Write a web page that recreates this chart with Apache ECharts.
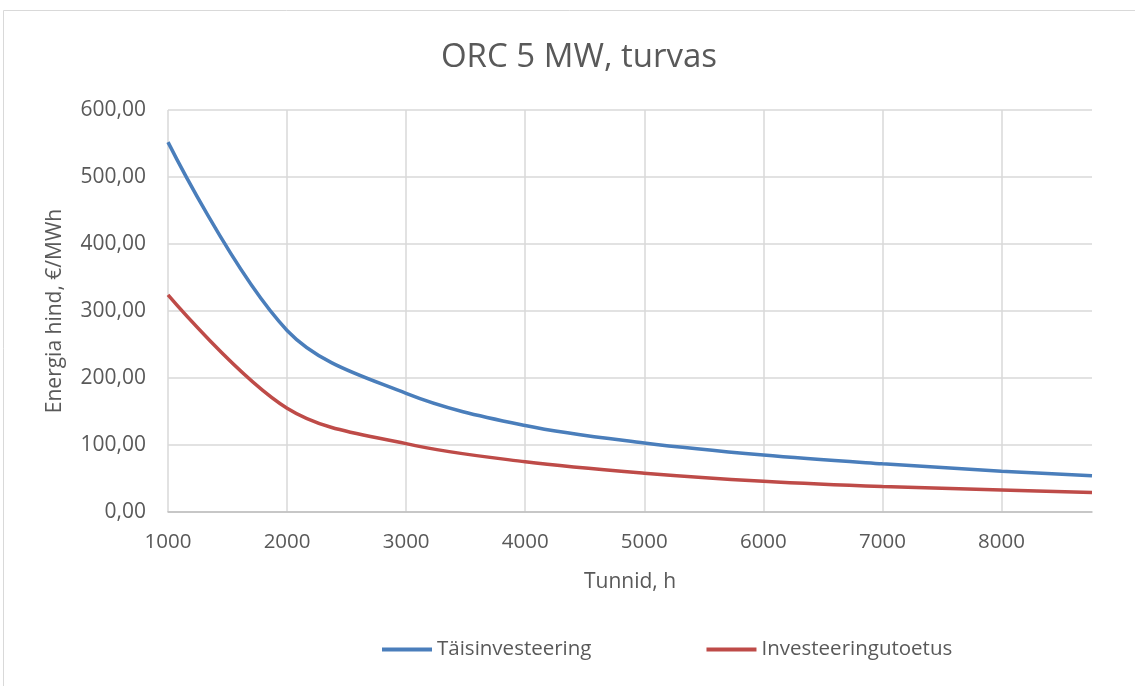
<!DOCTYPE html>
<html>
<head>
    <meta charset="utf-8">
    <title>ORC 5 MW, turvas</title>
    <script src="https://cdn.jsdelivr.net/npm/echarts@6/dist/echarts.min.js"></script>
    <style>
        body { margin: 0; background: #fff; }
    </style>
</head>
<body>
    <div id="main" style="width: 1135px;height:686px;"></div>
    <script type="text/javascript">
    // tunnid (h) ja energia hind (€/MWh)
    var hours = [1000, 2000, 3000, 4000, 5000, 6000, 7000, 8000, 8760];
    var taisinvesteering = [552, 271, 177, 129, 103, 85, 72, 61, 54];
    var investeeringutoetus = [324, 155, 102, 75, 58, 46, 38, 33, 29];
    var seriesNames = ['Täisinvesteering', 'Investeeringutoetus'];

    function pairs(xs, ys) {
        var out = [];
        for (var i = 0; i < xs.length; i++) {
            out.push([xs[i], ys[i]]);
        }
        return out;
    }

    var textColor = '#595959';
    var font = 'Open Sans';

    var myChart = echarts.init(document.getElementById('main'));
    var option = {
        backgroundColor: '#fff',
        textStyle: { fontFamily: font },
        graphic: [{
            type: 'rect',
            shape: { x: 3.5, y: 10.5, width: 1200, height: 1000 },
            style: { fill: 'none', stroke: '#d9d9d9', lineWidth: 1 },
            silent: true
        }],
        title: {
            text: 'ORC 5 MW, turvas',
            left: 574,
            top: 36,
            textAlign: 'center',
            textStyle: { fontFamily: font, fontSize: 33, fontWeight: 'normal', color: textColor }
        },
        legend: {
            left: 377,
            top: 634,
            icon: 'rect',
            itemWidth: 50,
            itemHeight: 4,
            itemGap: 115,
            textStyle: { fontFamily: font, fontSize: 20.5, color: textColor },
            data: seriesNames
        },
        grid: { left: 168, right: 43, top: 110, bottom: 174 },
        xAxis: {
            type: 'value',
            min: 1000,
            max: 8760,
            interval: 1000,
            name: 'Tunnid, h',
            nameLocation: 'middle',
            nameGap: 60,
            nameTextStyle: { fontFamily: font, fontSize: 21, color: textColor },
            axisLine: { show: true, lineStyle: { color: '#bfbfbf', width: 1.5 } },
            axisTick: { show: false },
            axisLabel: {
                fontFamily: font, fontSize: 20.5, color: textColor, margin: 20, showMaxLabel: false,
                formatter: function (v) { return String(v); }
            },
            splitLine: { show: true, showMaxLine: false, lineStyle: { color: '#d9d9d9', width: 1.5 } }
        },
        yAxis: {
            type: 'value',
            min: 0,
            max: 600,
            interval: 100,
            name: 'Energia hind, €/MWh',
            nameLocation: 'middle',
            nameGap: 102,
            nameTextStyle: { fontFamily: font, fontSize: 21, color: textColor },
            axisLine: { show: false },
            axisTick: { show: false },
            axisLabel: {
                fontFamily: font, fontSize: 21, color: textColor, margin: 22,
                formatter: function (v) { return v.toFixed(2).replace('.', ','); }
            },
            splitLine: { show: true, lineStyle: { color: '#d9d9d9', width: 1.5 } }
        },
        series: [{
            name: seriesNames[0],
            type: 'line',
            smooth: 0.35,
            showSymbol: false,
            color: '#4a7ebb',
            lineStyle: { width: 3.5, color: '#4a7ebb' },
            data: pairs(hours, taisinvesteering)
        }, {
            name: seriesNames[1],
            type: 'line',
            smooth: 0.35,
            showSymbol: false,
            color: '#be4b48',
            lineStyle: { width: 3.5, color: '#be4b48' },
            data: pairs(hours, investeeringutoetus)
        }]
    };
    myChart.setOption(option);
    </script>
</body>
</html>
